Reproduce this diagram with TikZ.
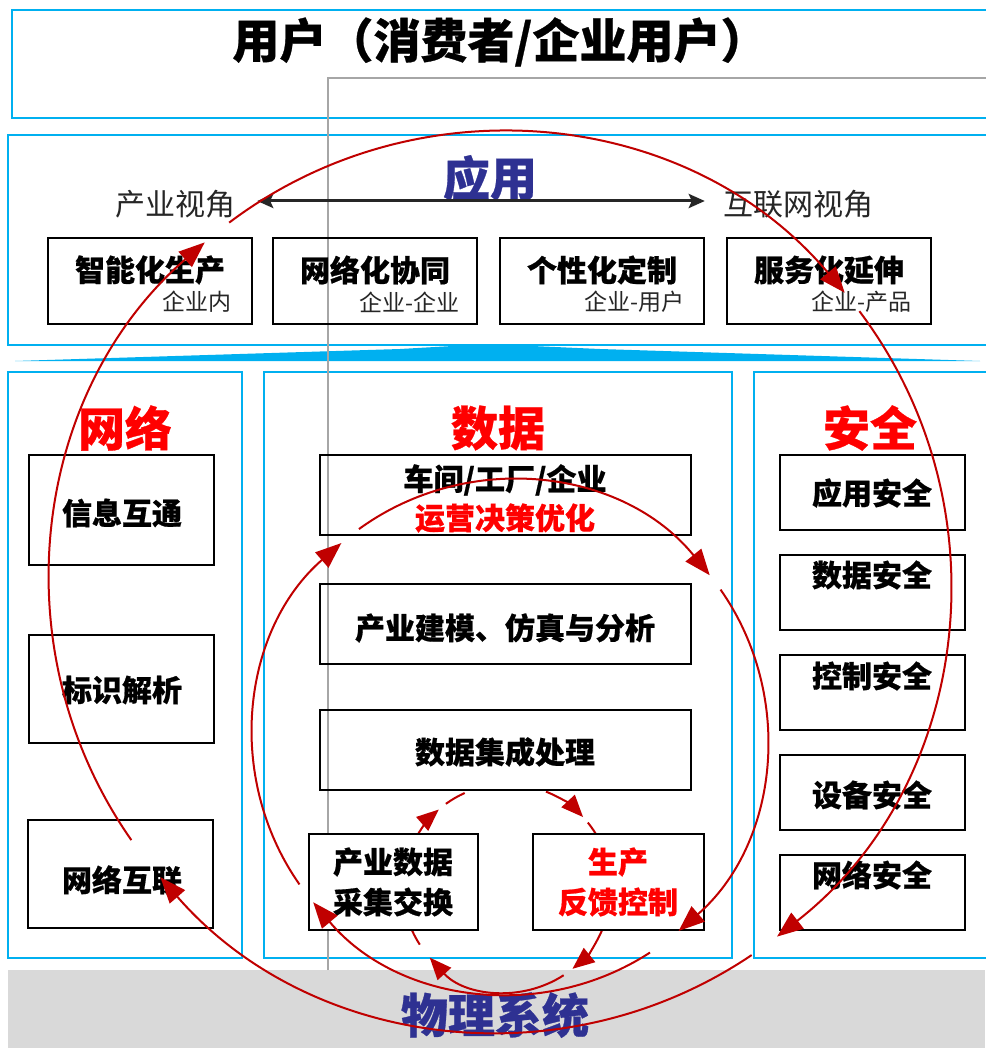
\documentclass[tikz,border=0pt]{standalone}
\usepackage{fontspec}
\setmainfont{Noto Sans CJK SC}
\newfontfamily\cjk[BoldFeatures={FakeBold=0.6}]{Noto Sans CJK SC}
\usetikzlibrary{arrows.meta}
\definecolor{cyanB}{HTML}{00B0F0}
\definecolor{navyT}{HTML}{2E3192}
\definecolor{arrRed}{HTML}{C00000}
\definecolor{redT}{HTML}{FF0000}
\definecolor{lineGray}{HTML}{A6A6A6}
\definecolor{bandGray}{HTML}{D9D9D9}
\definecolor{softBlack}{HTML}{262626}
\tikzset{
  bluebox/.style={draw=cyanB, line width=2pt},
  blkbox/.style={draw=black, line width=1.8pt, inner sep=0pt, rectangle},
  huge/.style={inner sep=0pt, font=\cjk\bfseries\fontsize{47pt}{47pt}\selectfont},
  mid/.style={inner sep=0pt, font=\cjk\bfseries\fontsize{30pt}{30pt}\selectfont},
  thin/.style={inner sep=0pt, text=softBlack, font=\cjk\fontsize{30pt}{30pt}\selectfont},
  small/.style={inner sep=0pt, text=softBlack, font=\cjk\fontsize{23pt}{23pt}\selectfont},
  redarc/.style={draw=arrRed, line width=2pt, -{Triangle[length=26pt,width=20pt]}},
  smallarc/.style={draw=arrRed, line width=2pt, -{Triangle[length=22pt,width=18pt]}},
  plainarc/.style={draw=arrRed, line width=2pt},
}
\begin{document}
\begin{tikzpicture}[x=1pt,y=1pt]
\useasboundingbox (0,0) rectangle (985,-1048);
\fill[white] (0,0) rectangle (985,-1048);

% frames
\draw[bluebox] (986,-10) -- (12,-10) -- (12,-118) -- (986,-118);
\draw[bluebox] (986,-135) -- (8,-135) -- (8,-345) -- (986,-345);
\draw[bluebox] (8,-372) rectangle (242,-958);
\draw[bluebox] (264,-372) rectangle (732,-958);
\draw[bluebox] (986,-372) -- (754,-372) -- (754,-958) -- (986,-958);
\fill[bandGray] (8,-970) rectangle (985,-1048);
\fill[cyanB] (15,-361) -- (400,-349) -- (470,-345) -- (510,-345) -- (600,-349) -- (980,-361) -- cycle;
\draw[lineGray, line width=1.5pt] (328,-970) -- (328,-78) -- (986,-78);

% small circle (behind boxes)
\coordinate (S) at (507,-888);
\draw[smallarc] ([shift={(150:104pt)}]S) arc[start angle=150,end angle=131,radius=104pt];
\draw[plainarc] ([shift={(126:104pt)}]S) arc[start angle=126,end angle=114,radius=104pt];
\draw[smallarc] ([shift={(68:104pt)}]S) arc[start angle=68,end angle=43,radius=104pt];
\draw[plainarc] ([shift={(39:104pt)}]S) arc[start angle=39,end angle=28,radius=104pt];
\draw[smallarc] ([shift={(-22:104pt)}]S) arc[start angle=-22,end angle=-51,radius=104pt];
\draw[smallarc] ([shift={(-57:104pt)}]S) arc[start angle=-57,end angle=-138,radius=104pt];
\draw[plainarc] ([shift={(-147:104pt)}]S) arc[start angle=-147,end angle=-160,radius=104pt];

% title
\node[huge] (title) at (500,-42) {用户（消费者/企业用户）};

% application layer
\node[huge, text=navyT] (app) at (490,-178) {应用};
\node[thin] (pv) at (175,-204) {产业视角};
\node[thin] (iv) at (798,-204) {互联网视角};
\draw[line width=3pt, draw=softBlack, {Stealth[length=16pt,width=14pt,inset=3pt]}-{Stealth[length=16pt,width=14pt,inset=3pt]}]
  ([xshift=22pt,yshift=3pt]pv.east) -- ([xshift=-18pt,yshift=3pt]iv.west);

\node[blkbox, minimum width=204pt, minimum height=86pt] (a1) at (150,-281) {};
\node[blkbox, minimum width=204pt, minimum height=86pt] (a2) at (375,-281) {};
\node[blkbox, minimum width=204pt, minimum height=86pt] (a3) at (602,-281) {};
\node[blkbox, minimum width=204pt, minimum height=86pt] (a4) at (829,-281) {};
\node[mid] (a1t) at (150,-270) {智能化生产};
\node[mid] (a2t) at (375,-270) {网络化协同};
\node[mid] (a3t) at (602,-270) {个性化定制};
\node[mid] (a4t) at (829,-270) {服务化延伸};
\node[small, anchor=east] (a1s) at (232,-302) {企业内};
\node[small, anchor=east] (a2s) at (460,-302) {企业-企业};
\node[small, anchor=east] (a3s) at (685,-302) {企业-用户};
\node[small, anchor=east] (a4s) at (912,-302) {企业-产品};

% network column
\node[huge, text=redT] (net) at (125,-428) {网络};
\node[blkbox, minimum width=185pt, minimum height=110pt] (n1) at (121.5,-510) {};
\node[blkbox, minimum width=185pt, minimum height=108pt] (n2) at (121.5,-689) {};
\node[blkbox, minimum width=185pt, minimum height=108pt] (n3) at (120.5,-874) {};
\node[mid] (n1t) at (122,-513) {信息互通};
\node[mid] (n2t) at (122,-690) {标识解析};
\node[mid] (n3t) at (122,-880) {网络互联};

% data column
\node[huge, text=redT] (dat) at (498,-428) {数据};
\node[blkbox, minimum width=371pt, minimum height=80pt] (d1) at (505.5,-495) {};
\node[blkbox, minimum width=371pt, minimum height=80pt] (d2) at (505.5,-624) {};
\node[blkbox, minimum width=371pt, minimum height=80pt] (d3) at (505.5,-750) {};
\node[blkbox, fill=white, minimum width=169pt, minimum height=96pt] (d4) at (393.5,-882) {};
\node[blkbox, fill=white, minimum width=171pt, minimum height=96pt] (d5) at (618.5,-882) {};
\node[mid] (d1t) at (505,-480) {车间/工厂/企业};
\node[mid, text=redT] (d1s) at (505,-518) {运营决策优化};
\node[mid] (d2t) at (505,-628) {产业建模、仿真与分析};
\node[mid] (d3t) at (505,-752) {数据集成处理};
\node[mid] (d4a) at (393,-862) {产业数据};
\node[mid] (d4b) at (393,-902) {采集交换};
\node[mid, text=redT] (d5a) at (618,-862) {生产};
\node[mid, text=redT] (d5b) at (618,-902) {反馈控制};

% security column
\node[huge, text=redT] (sec) at (870,-428) {安全};
\foreach \i/\yc in {1/492.5,2/592.5,3/692.5,4/792.5,5/892.5}
  \node[blkbox, minimum width=185pt, minimum height=75pt] (s\i) at (872.5,-\yc) {};
\node[mid] (s1t) at (872,-493) {应用安全};
\node[mid] (s2t) at (872,-575) {数据安全};
\node[mid] (s3t) at (872,-676) {控制安全};
\node[mid] (s4t) at (872,-795) {设备安全};
\node[mid] (s5t) at (872,-875) {网络安全};

% physical system
\node[huge, text=navyT] (phy) at (495,-1015) {物理系统};

% outer circle
\coordinate (O) at (500,-582);
\draw[redarc] ([shift={(215:450pt)}]O) arc[start angle=215,end angle=131,radius=450pt];
\draw[redarc] ([shift={(127:450pt)}]O) arc[start angle=127,end angle=40,radius=450pt];
\draw[redarc] ([shift={(37:450pt)}]O) arc[start angle=37,end angle=-52,radius=450pt];
\draw[redarc] ([shift={(-56:450pt)}]O) arc[start angle=-56,end angle=-139,radius=450pt];

% inner circle
\coordinate (I) at (510,-737);
\draw[redarc] ([shift={(215:257pt)}]I) arc[start angle=215,end angle=131,radius=257pt];
\draw[redarc] ([shift={(126:257pt)}]I) arc[start angle=126,end angle=39,radius=257pt];
\draw[redarc] ([shift={(35:257pt)}]I) arc[start angle=35,end angle=-49,radius=257pt];
\draw[redarc] ([shift={(-57:257pt)}]I) arc[start angle=-57,end angle=-140,radius=257pt];
\end{tikzpicture}
\end{document}
